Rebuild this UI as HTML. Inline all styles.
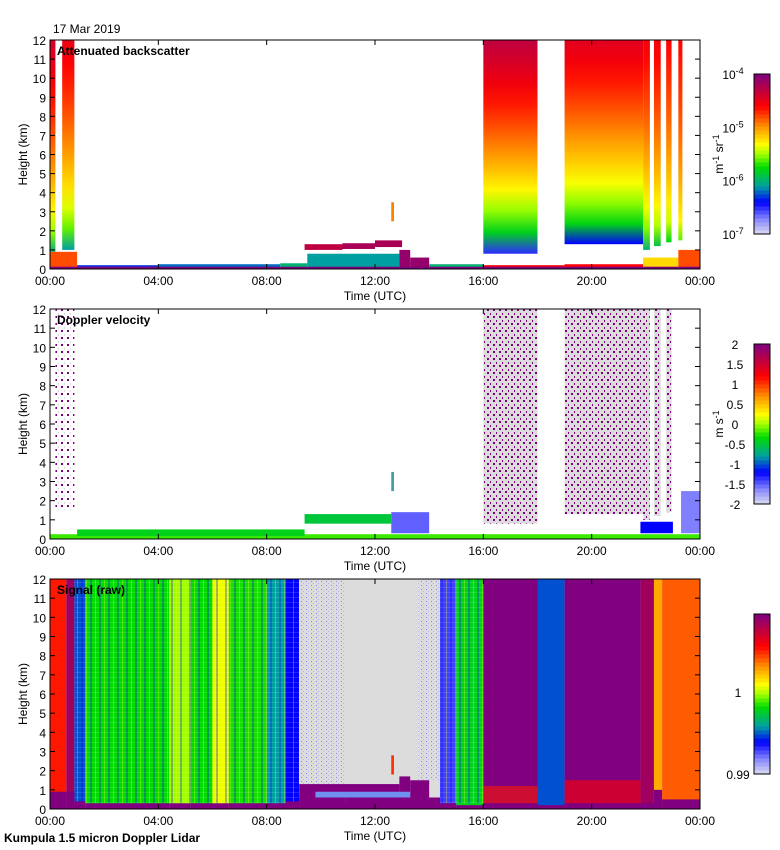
<!DOCTYPE html>
<html><head><meta charset="utf-8">
<style>
body{margin:0;background:#fff;}
svg{display:block;font-family:"Liberation Sans",sans-serif;}
.t{font-size:12px;fill:#000;}
.b{font-size:12px;font-weight:bold;fill:#000;}
</style></head>
<body>
<svg id="c" width="780" height="850" viewBox="0 0 780 850">
<defs>
<pattern id="dots" width="6" height="7" patternUnits="userSpaceOnUse">
<rect width="6" height="7" fill="#dcdcdc"/>
<rect x="1" y="1" width="2" height="2" fill="#800080"/>
<rect x="4" y="5" width="1" height="2" fill="#800080"/>
</pattern>
<pattern id="dotsw" width="6" height="7" patternUnits="userSpaceOnUse">
<rect x="1" y="1" width="2" height="2" fill="#800080"/>
<rect x="4" y="5" width="1" height="2" fill="#dcdcdc"/>
</pattern>
<pattern id="stripes" width="9" height="5" patternUnits="userSpaceOnUse">
<rect x="0" y="0" width="2" height="5" fill="#0000ff" opacity="0.3"/>
<rect x="5" y="0" width="1" height="5" fill="#ffff00" opacity="0.3"/>
<rect x="0" y="2" width="9" height="1" fill="#ffffff" opacity="0.12"/>
</pattern>
<pattern id="speck" width="5" height="4" patternUnits="userSpaceOnUse">
<rect width="5" height="4" fill="#dcdcdc"/>
<rect x="1" y="1" width="1" height="1" fill="#6060ff" opacity="0.7"/>
<rect x="3" y="3" width="1" height="1" fill="#a0a0ff" opacity="0.7"/>
</pattern>
</defs>
</svg>
<script>
// ---------- data ----------
const tickHours=[0,4,8,12,16,20,24];
const tickLabels=["00:00","04:00","08:00","12:00","16:00","20:00","00:00"];
const heightTicks=[0,1,2,3,4,5,6,7,8,9,10,11,12];
// backscatter columns (log10 values)
const bsStart=[0,0.45,16,19,21.9,22.3,22.75,23.2];
const bsEnd=[0.2,0.9,18,21.9,22.15,22.55,22.95,23.35];
const bsBottom=[0.9,1.0,0.8,1.3,1.0,1.2,1.4,1.5];
const bsTop=[12,12,12,12,12,12,12,12];
const bsLow=[-6.0,-6.1,-6.5,-6.4,-6.0,-5.9,-5.8,-5.6];
const bsHigh=[-4.4,-4.5,-4.3,-4.45,-4.55,-4.55,-4.6,-4.6];
// backscatter low layers
const blStart=[0,1,4,8.5,9.5,12.9,13.3,14,16,19,21.9,23.2];
const blEnd=[1,4,8.5,9.5,12.9,13.3,14,16,19,21.9,23.2,24];
const blTop=[0.9,0.2,0.25,0.3,0.8,1.0,0.6,0.25,0.2,0.25,0.6,1.0];
const blVal=[-4.8,-6.3,-6.2,-6.0,-6.1,-4.1,-4.1,-6.0,-4.6,-4.6,-5.2,-4.8];
const clStart=[9.4,10.8,12.0];
const clEnd=[10.8,12.0,13.0];
const clBottom=[1.0,1.05,1.15];
const clTop=[1.3,1.35,1.5];
const clVal=[-4.3,-4.2,-4.2];
// doppler
const dvStart=[16,19,21.9,22.3,22.75];
const dvEnd=[18,21.9,22.15,22.55,22.95];
const dvBottom=[0.8,1.3,1.0,1.2,1.4];
const dvLayerStart=[0,1,9.4,12.6,21.8,23.3];
const dvLayerEnd=[24,9.4,12.6,14.0,23.0,24];
const dvLayerBottom=[0,0.15,0.8,0.3,0.3,0.3];
const dvLayerTop=[0.25,0.5,1.3,1.4,0.9,2.5];
const dvLayerVal=[-0.2,-0.4,-0.5,-1.5,-1.2,-1.6];
// raw signal (colour index 0..1, -1 = grey)
const sgStart=[0,0.6,0.9,1.3,4.4,5.2,6.0,6.6,8.0,8.7,9.2,10.9,14.4,15.0,16,18,19,21.8,22.3,22.6];
const sgEnd=[0.6,0.9,1.3,4.4,5.2,6.0,6.6,8.0,8.7,9.2,10.9,14.4,15.0,16,18,19,21.8,22.3,22.6,24];
const sgVal=[0.78,0.95,0.25,0.42,0.5,0.42,0.55,0.43,0.3,0.2,-1,-1,0.15,0.4,1.0,0.25,1.0,0.95,0.65,0.72];
const sgGround=[0.9,0.9,0.4,0.3,0.3,0.3,0.3,0.3,0.3,0.4,0.6,0.6,0.3,0.2,0.3,0.2,0.3,0.3,1.0,0.5];
const sgCloudStart=[9.2,12.9,13.3];
const sgCloudEnd=[12.9,13.3,14.0];
const sgCloudTop=[1.3,1.7,1.5];
const sgLowStart=[16,19];
const sgLowEnd=[18,21.8];
const sgLowTop=[1.2,1.5];
const sgLowVal=[0.78,0.8];
// colourbars
const bsBarLabels=["-4","-5","-6","-7"];
const dvBarLabels=["2","1.5","1","0.5","0","-0.5","-1","-1.5","-2"];
const sgBarLabels=["1","0.99"];

// ---------- helpers ----------
const svg=document.getElementById('c');
const NS='http://www.w3.org/2000/svg';
const X0=50,X1=700;
const panels=[{top:40,bot:269},{top:309,bot:539},{top:579,bot:809}];
const xs=h=>X0+h/24*(X1-X0);
function ys(p,km){return panels[p].bot-km/12*(panels[p].bot-panels[p].top);}
const stops=[[0,[220,220,240]],[0.1,[128,128,255]],[0.2,[0,0,255]],[0.3,[0,160,160]],[0.42,[0,220,0]],[0.5,[160,255,0]],[0.56,[255,255,0]],[0.66,[255,160,0]],[0.8,[255,0,0]],[0.9,[190,0,64]],[1,[128,0,128]]];
function cmap(t){if(t<0)return '#dcdcdc';t=Math.max(0,Math.min(1,t));for(let i=1;i<stops.length;i++){if(t<=stops[i][0]){const a=stops[i-1],b=stops[i];const f=(t-a[0])/(b[0]-a[0]);const c=a[1].map((v,k)=>Math.round(v+(b[1][k]-v)*f));return `rgb(${c[0]},${c[1]},${c[2]})`;}}return 'rgb(128,0,128)';}
const bsT=v=>(v+7)/3;
const dvT=v=>(v+2)/4;
function el(tag,attrs,parent){const e=document.createElementNS(NS,tag);for(const k in attrs)e.setAttribute(k,attrs[k]);(parent||svg).appendChild(e);return e;}
function txt(x,y,s,cls,anchor,parent){const e=el('text',{x:x,y:y,class:cls||'t','text-anchor':anchor||'start'},parent);e.textContent=s;return e;}
let gid=0;
function profGrad(lo,hi){const id='g'+(gid++);const g=el('linearGradient',{id:id,x1:0,y1:1,x2:0,y2:0},svg.querySelector('defs'));
 for(let i=0;i<=10;i++){const f=i/10;const v=lo+(hi-lo)*Math.sqrt(f);el('stop',{offset:f,'stop-color':cmap(bsT(v))},g);}return 'url(#'+id+')';}
function rect(p,h0,h1,k0,k1,fill,parent){return el('rect',{x:xs(h0),y:ys(p,k1),width:xs(h1)-xs(h0),height:ys(p,k0)-ys(p,k1),fill:fill},parent);}

// ---------- panel 1 ----------
const g1=el('g',{});


bsStart.forEach((s,i)=>{const r=rect(0,s,bsEnd[i],bsBottom[i],bsTop[i],profGrad(bsLow[i],bsHigh[i]),g1);

});
blStart.forEach((s,i)=>{const r=rect(0,s,blEnd[i],0,blTop[i],cmap(bsT(blVal[i])),g1);

});
blStart.forEach((s,i)=>{const r=rect(0,s,blEnd[i],0,Math.min(blTop[i],0.12),'#800080',g1);

});
clStart.forEach((s,i)=>{const r=rect(0,s,clEnd[i],clBottom[i],clTop[i],cmap(bsT(clVal[i])),g1);

});
{const r=rect(0,12.6,12.7,2.5,3.5,'#ff8000',g1);

}

// ---------- panel 2 ----------
const g2=el('g',{});


dvStart.forEach((s,i)=>{const r=rect(1,s,dvEnd[i],dvBottom[i],12,'url(#dots)',g2);

});
{const r=rect(1,0.2,0.9,1.5,12,'url(#dotsw)',g2);

}
dvLayerStart.forEach((s,i)=>{const r=rect(1,s,dvLayerEnd[i],dvLayerBottom[i],dvLayerTop[i],cmap(dvT(dvLayerVal[i])),g2);

});
{const r=rect(1,12.6,12.7,2.5,3.5,'#40a0a0',g2);

}

// ---------- panel 3 ----------
const g3=el('g',{});


sgStart.forEach((s,i)=>{const r=rect(2,s,sgEnd[i],0,12,cmap(sgVal[i]),g3);

});
{const r=rect(2,0.9,9.2,0.3,12,'url(#stripes)',g3);


const r2=rect(2,14.4,16,0.3,12,'url(#stripes)',g3);


const r3=rect(2,9.2,10.9,0.3,12,'url(#speck)',g3);


const r4=rect(2,13.6,14.4,1.5,12,'url(#speck)',g3);

}
sgLowStart.forEach((s,i)=>{const r=rect(2,s,sgLowEnd[i],0.2,sgLowTop[i],cmap(sgLowVal[i]),g3);r.setAttribute('opacity','0.6');

});
sgCloudStart.forEach((s,i)=>{const r=rect(2,s,sgCloudEnd[i],0,sgCloudTop[i],'#800080',g3);

});
{const r=rect(2,9.8,13.3,0.3,0.9,'#7090f0',g3);

}
sgStart.forEach((s,i)=>{const r=rect(2,s,sgEnd[i],0,sgGround[i],'#800080',g3);

});
{const r=rect(2,12.6,12.7,1.8,2.8,'#ff3000',g3);

}

// ---------- axes ----------
const names=['backscatter','doppler','signal'];
const titles=['Attenuated backscatter','Doppler velocity','Signal (raw)'];
panels.forEach((P,p)=>{
 const ga=el('g',{});
 
 
 el('rect',{x:X0,y:P.top,width:X1-X0,height:P.bot-P.top,fill:'none',stroke:'#000','stroke-width':1},ga);
 heightTicks.forEach(k=>{const y=ys(p,k);
  el('line',{x1:X0,x2:X0+5,y1:y,y2:y,stroke:'#000'},ga);
  el('line',{x1:X1-5,x2:X1,y1:y,y2:y,stroke:'#000'},ga);
  const t=txt(46,y+5,String(k),'t','end',ga);
  
  });
 tickHours.forEach((h,i)=>{const x=xs(h);
  el('line',{x1:x,x2:x,y1:P.bot,y2:P.bot-5,stroke:'#000'},ga);
  el('line',{x1:x,x2:x,y1:P.top,y2:P.top+5,stroke:'#000'},ga);
  const t=txt(x,P.bot+16,tickLabels[i],'t','middle',ga);
  
  });
 const xt=txt(375,P.bot+31,'Time (UTC)','t','middle',ga);
 
 
 const yt=txt(0,0,'Height (km)','t','middle',ga);
 yt.setAttribute('transform',`translate(27,${(P.top+P.bot)/2}) rotate(-90)`);
 
 
 const pt=txt(57,P.top+15,titles[p],'b','start',ga);
 
 
});

// ---------- colourbars ----------
const CB=[{top:74,bot:234},{top:344,bot:504},{top:614,bot:774}];
function cbar(i,name){const C=CB[i];
 const g=el('g',{});
 
 
 const N=40;for(let j=0;j<N;j++){el('rect',{x:754,y:C.bot-(j+1)*(C.bot-C.top)/N,width:16,height:(C.bot-C.top)/N+0.5,fill:cmap((j+0.5)/N)},g);}
 el('rect',{x:754,y:C.top,width:16,height:C.bot-C.top,fill:'none',stroke:'#000'},g);
 return g;}
const cb1=cbar(0,'backscatter-colorbar');
bsBarLabels.forEach((l,i)=>{const y=CB[0].top+i*(CB[0].bot-CB[0].top)/(bsBarLabels.length-1);
 const t=el('text',{x:733,y:y+5,class:'t','text-anchor':'middle'},cb1);
 t.innerHTML=`10<tspan dy="-5" font-size="9">${l}</tspan>`;
 
 });
{const t=el('text',{class:'t','text-anchor':'middle',transform:'translate(723,154) rotate(-90)'},cb1);
 t.innerHTML='m<tspan dy="-4" font-size="9">-1</tspan><tspan dy="4"> sr</tspan><tspan dy="-4" font-size="9">-1</tspan>';
 
 }
const cb2=cbar(1,'velocity-colorbar');
dvBarLabels.forEach((l,i)=>{const y=CB[1].top+i*(CB[1].bot-CB[1].top)/(dvBarLabels.length-1);
 const t=txt(735,y+5,l,'t','middle',cb2);
 
 });
{const t=el('text',{class:'t','text-anchor':'middle',transform:'translate(723,424) rotate(-90)'},cb2);
 t.innerHTML='m s<tspan dy="-4" font-size="9">-1</tspan>';
 
 }
const cb3=cbar(2,'signal-colorbar');
[692,774].forEach((y,i)=>{const t=txt(738,y+5,sgBarLabels[i],'t','middle',cb3);
 
 });

// ---------- captions ----------
const d=txt(53,33,'17 Mar 2019','t','start');


const f=txt(4,842,'Kumpula 1.5 micron Doppler Lidar','b','start');


</script>
</body></html>
